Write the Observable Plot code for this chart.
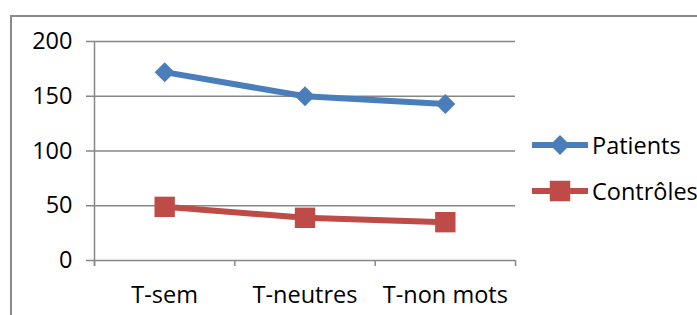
<!DOCTYPE html>
<html>
<head>
<meta charset="utf-8">
<script src="https://cdn.jsdelivr.net/npm/d3@7"></script>
<script src="https://cdn.jsdelivr.net/npm/@observablehq/plot@0.6"></script>
<style>
  html, body { margin: 0; padding: 0; background: #fff; }
  #wrap { position: relative; width: 697px; height: 315px; overflow: hidden; font-family: "Open Sans", sans-serif; }
  #frame { position: absolute; left: 10px; top: 15px; width: 800px; height: 400px; border-left: 2px solid #8a8a8a; border-top: 2px solid #8a8a8a; box-sizing: border-box; }
  #legend { position: absolute; left: 531px; top: 122px; font-size: 23.5px; color: #000; }
  .item { display: flex; align-items: center; height: 46px; }
  .item svg { display: block; margin-right: 3px; }
</style>
</head>
<body>
<div id="wrap"><div id="frame"></div><div id="chart"></div><div id="legend"></div></div>
<script>
const categories = ["T-sem", "T-neutres", "T-non mots"];
const patients = [172, 150, 143];
const controles = [49, 39, 35];
const seriesNames = ["Patients", "Contrôles"];
const yTicks = [0, 50, 100, 150, 200];
const colors = ["#4a7ebb", "#be4b48"];

const rowsP = categories.map((c, i) => ({cat: c, pos: i + 0.5, value: patients[i], series: seriesNames[0]}));
const rowsC = categories.map((c, i) => ({cat: c, pos: i + 0.5, value: controles[i], series: seriesNames[1]}));

const gray = "#878787";
const chart = Plot.plot({
  width: 697,
  height: 315,
  marginLeft: 94,
  marginRight: 182,
  marginTop: 41,
  marginBottom: 55,
  style: {fontFamily: "'Open Sans', sans-serif", fontSize: "23.5px", color: "#000", background: "transparent"},
  x: {domain: [0, categories.length]},
  y: {domain: [0, 200]},
  marks: [
    Plot.gridY(yTicks, {stroke: gray, strokeOpacity: 1, strokeWidth: 1.5}),
    Plot.ruleX([0], {stroke: gray, strokeWidth: 1.5, insetBottom: -6}),
    Plot.axisX({ticks: d3.range(categories.length + 1), tickFormat: () => "", tickSize: 6, stroke: gray, strokeWidth: 1.5, label: null}),
    Plot.axisX({ticks: categories.map((c, i) => i + 0.5), tickSize: 0, tickPadding: 26, tickFormat: d => categories[Math.floor(d)], label: null, fill: "#000"}),
    Plot.axisY({ticks: yTicks, tickSize: 8, tickPadding: 14, stroke: gray, strokeWidth: 1.5, label: null, fill: "#000"}),
    Plot.line(rowsP, {x: "pos", y: "value", stroke: colors[0], strokeWidth: 6}),
    Plot.line(rowsC, {x: "pos", y: "value", stroke: colors[1], strokeWidth: 6}),
    Plot.dot(rowsP, {x: "pos", y: "value", fill: colors[0], symbol: "diamond2", r: 9, stroke: null}),
    Plot.dot(rowsC, {x: "pos", y: "value", fill: colors[1], symbol: "square", r: 11.5, stroke: null})
  ]
});
document.getElementById("chart").appendChild(chart);

const legend = document.getElementById("legend");
seriesNames.forEach((name, i) => {
  const item = document.createElement("div");
  item.className = "item";
  const sym = d3.symbol(i === 0 ? d3.symbolDiamond2 : d3.symbolSquare, i === 0 ? 256 : 420)();
  item.innerHTML = `<svg width="58" height="26"><line x1="1" x2="57" y1="13" y2="13" stroke="${colors[i]}" stroke-width="6"/><path d="${sym}" transform="translate(29,13)" fill="${colors[i]}"/></svg><span>${name}</span>`;
  legend.appendChild(item);
});
</script>
</body>
</html>
